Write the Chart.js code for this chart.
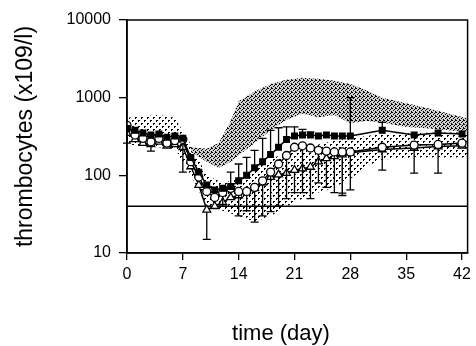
<!DOCTYPE html>
<html>
<head>
<meta charset="utf-8">
<script src="https://cdn.jsdelivr.net/npm/chart.js@4/dist/chart.umd.min.js"></script>
<style>
  html, body { margin: 0; padding: 0; background: #fff; }
  #wrap { width: 476px; height: 346px; position: relative; }
</style>
</head>
<body>
<div id="wrap"><canvas id="thrombo"></canvas></div>
<script>
// days of sampling
const days = [0,1,2,3,4,5,6,7,8,9,10,11,12,13,14,15,16,17,18,19,20,21,22,23,24,25,26,27,28,32,36,39,42]

// group means (x10^9/l)
const squares   = [400,380,350,330,340,310,320,300,170,110,75,65,68,72,85,100,125,150,185,230,290,320,330,330,320,330,320,320,320,380,330,350,340]
const circles   = [440,330,300,270,300,260,280,290,150,95,62,52,60,68,62,62,70,85,110,140,180,230,240,225,210,205,200,200,200,230,245,250,260]
const triangles = [350,290,260,250,270,240,250,230,130,75,36,40,45,52,55,62,68,80,95,102,107,117,122,128,150,165,175,185,195,215,225,235,240]

// error bar ends (null = no bar)
const squaresHigh = [null,null,null,null,null,null,null,null,null,null,null,null,null,110,140,170,210,300,380,410,420,420,390,360,null,null,null,null,1000,480,null,null,null]
const circlesLow  = [260,null,null,205,null,null,null,110,null,null,null,null,40,null,30,null,25,null,34,null,50,null,60,null,80,null,60,59,65,117,107,107,null]
const trianglesLow = [null,null,null,null,null,null,null,null,null,null,15,null,null,null,null,35,null,30,null,40,null,60,null,50,null,70,null,55,null,null,null,null,null]

// shaded reference ranges
const bandDays  = [8,10,11.5,13,14,16,18,20,22,24,26,28,30,32,35,38,42.7]
const bandLow   = [200,150,125,150,180,260,380,520,620,560,600,470,500,480,420,400,360]
const bandHigh  = [230,220,260,500,900,1200,1500,1700,1800,1750,1650,1500,1250,1000,850,720,540]

const rangeDays = [0,4,6,8,10,12,14,16,18,20,22,24,26,28,30,32,36,42.7]
const rangeLow  = [250,230,220,100,40,35,30,25,30,40,50,60,70,90,130,160,170,170]
const rangeHigh = [550,600,550,250,100,80,90,120,160,200,230,250,280,300,320,340,350,360]

const thresholdDays = [0,42.7]
const thresholdVals = [40,40]

const xTicks = [0,7,14,21,28,35,42]
const yTicks = [10,100,1000,10000]

function toPoints(xs, ys){
    return xs.map((x, i) => ({x: x, y: ys[i]}))
}

function makePattern(size, bg, dots){
    const c = document.createElement('canvas')
    c.width = size
    c.height = size
    const g = c.getContext('2d')
    if(bg){
        g.fillStyle = bg
        g.fillRect(0, 0, size, size)
    }
    g.fillStyle = '#000'
    dots.forEach(d => g.fillRect(d[0], d[1], d[2], d[3]))
    return g.createPattern(c, 'repeat')
}

const denseFill = makePattern(4, '#cfcfcf', [[0,0,1,1],[2,1,1,1],[1,2,1,1],[3,3,1,1],[3,0,1,1]])
const lightFill = makePattern(6, null, [[0,0,2,1],[3,3,2,1],[0,1,1,1],[3,4,1,1]])

const triangleMarker = 'triangle'

// error bars are drawn just before their dataset, so the marker sits on top
const errorBarsPlugin = {
    id: 'errorBars',
    beforeDatasetDraw(chart, args){
        const ds = chart.data.datasets[args.index]
        if(!ds.errEnds) return
        const meta = args.meta
        const yScale = chart.scales.y
        const ctx = chart.ctx
        ctx.save()
        ctx.strokeStyle = '#000'
        ctx.lineWidth = 1.3
        ds.errEnds.forEach((v, i) => {
            if(v === null) return
            const pt = meta.data[i]
            const yEnd = yScale.getPixelForValue(v)
            ctx.beginPath()
            ctx.moveTo(pt.x, pt.y)
            ctx.lineTo(pt.x, yEnd)
            ctx.moveTo(pt.x - 4, yEnd)
            ctx.lineTo(pt.x + 4, yEnd)
            ctx.stroke()
        })
        ctx.restore()
    }
}

const frameAndTitlePlugin = {
    id: 'frameAndTitle',
    afterDraw(chart){
        const {ctx, chartArea} = chart
        ctx.save()
        ctx.strokeStyle = '#000'
        ctx.lineWidth = 1.5
        ctx.strokeRect(chartArea.left, chartArea.top, chartArea.right - chartArea.left, chartArea.bottom - chartArea.top)
        ctx.fillStyle = '#000'
        ctx.font = '22px "Liberation Sans", Arial, sans-serif'
        ctx.textAlign = 'center'
        ctx.textBaseline = 'middle'
        ctx.fillText('time (day)', 281, 334)
        ctx.restore()
    }
}

const seriesStyle = {
    borderColor: '#000',
    borderWidth: 1.5,
    pointBorderColor: '#000',
    pointBorderWidth: 1.3,
    pointRadius: 4,
    tension: 0,
    fill: false,
    order: 0
}

new Chart(document.getElementById('thrombo'), {
    type: 'line',
    data: {
        datasets: [
            {data: toPoints(rangeDays, rangeLow), borderWidth: 0, pointRadius: 0, fill: false, order: 20},
            {data: toPoints(rangeDays, rangeHigh), borderWidth: 0, pointRadius: 0, fill: '-1', backgroundColor: lightFill, order: 20},
            {data: toPoints(bandDays, bandLow), borderWidth: 0, pointRadius: 0, fill: false, order: 15},
            {data: toPoints(bandDays, bandHigh), borderWidth: 0, pointRadius: 0, fill: '-1', backgroundColor: denseFill, order: 15},
            {data: toPoints(thresholdDays, thresholdVals), borderColor: '#000', borderWidth: 1.3, pointRadius: 0, fill: false, order: 10},
            {...seriesStyle, data: toPoints(days, triangles), errEnds: trianglesLow, pointStyle: triangleMarker, pointBackgroundColor: '#fff', pointRadius: 4.5, order: 3},
            {...seriesStyle, data: toPoints(days, circles), errEnds: circlesLow, pointStyle: 'circle', pointBackgroundColor: '#fff', order: 2},
            {...seriesStyle, data: toPoints(days, squares), errEnds: squaresHigh, pointStyle: 'rect', pointBackgroundColor: '#000', order: 1}
        ]
    },
    options: {
        responsive: true,
        maintainAspectRatio: false,
        animation: false,
        layout: {padding: {top: 20, right: 3, left: 0, bottom: 0}},
        plugins: {legend: {display: false}, tooltip: {enabled: false}},
        scales: {
            x: {
                type: 'linear',
                min: 0,
                max: 42.7,
                afterBuildTicks: (scale) => { scale.ticks = xTicks.map(v => ({value: v})) },
                afterFit: (scale) => { scale.height = 93 },
                grid: {drawOnChartArea: false, drawTicks: true, tickLength: 7, color: '#000', lineWidth: 1.3},
                border: {color: '#000', width: 1.5},
                ticks: {color: '#000', padding: 5, font: {size: 16, family: '"Liberation Sans", Arial, sans-serif'}, maxRotation: 0}
            },
            y: {
                type: 'logarithmic',
                min: 10,
                max: 10000,
                afterBuildTicks: (scale) => { scale.ticks = yTicks.map(v => ({value: v})) },
                afterFit: (scale) => { scale.width = 127 },
                grid: {drawOnChartArea: false, drawTicks: true, tickLength: 8, color: '#000', lineWidth: 1.3},
                border: {color: '#000', width: 1.5},
                ticks: {color: '#000', padding: 8, font: {size: 16, family: '"Liberation Sans", Arial, sans-serif'}, callback: (v) => String(v)},
                title: {display: true, text: 'thrombocytes (x109/l)', color: '#000', padding: {top: 12, bottom: 0}, font: {size: 23, family: '"Liberation Sans", Arial, sans-serif'}}
            }
        }
    },
    plugins: [errorBarsPlugin, frameAndTitlePlugin]
})
</script>
</body>
</html>
